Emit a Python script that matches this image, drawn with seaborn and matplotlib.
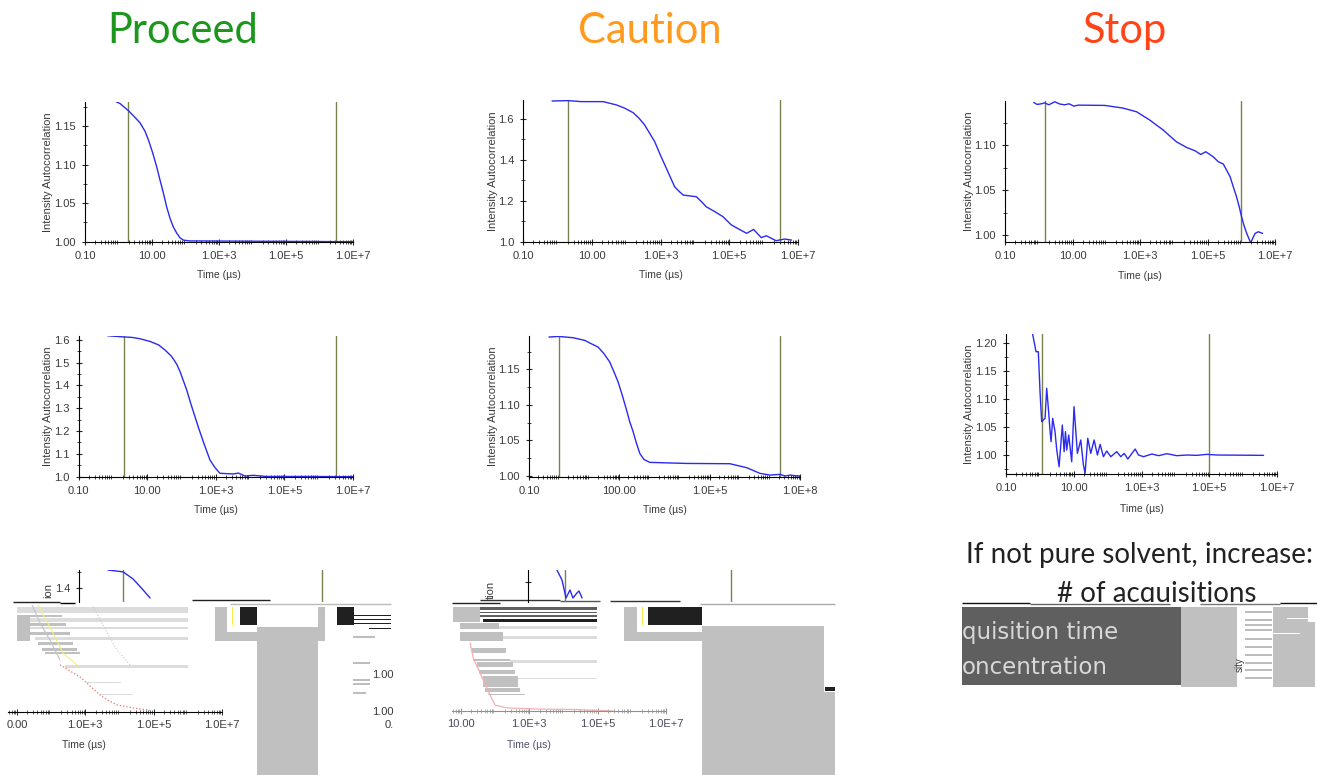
import numpy as np
import pandas as pd
import matplotlib
matplotlib.use('Agg')
import matplotlib.pyplot as plt
from matplotlib.ticker import LogLocator, MultipleLocator, NullFormatter
import seaborn as sns

W, H = 1317, 775

# curves, time in microseconds
a1_t = [0.71, 1.11, 1.95, 3.11, 4.4, 6.2, 7.8, 10.5, 13.8, 17.3, 21.9, 27.4, 34.7, 43.4, 55, 68.5, 87, 135, 1e7]
a1_y = [1.183, 1.179, 1.170, 1.161, 1.154, 1.143, 1.132, 1.115, 1.097, 1.080, 1.063, 1.045, 1.030, 1.019, 1.011, 1.005, 1.002, 1.001, 1.0]
a2_t = [0.71, 2.05, 3.56, 6.2, 12.2, 21.5, 33, 52, 73, 91, 113, 142, 186, 247, 324, 433, 542, 680, 948, 1320, 3240, 4570, 7100, 12400, 30200, 4.9e5, 1e7]
a2_y = [1.618, 1.613, 1.611, 1.605, 1.593, 1.578, 1.556, 1.527, 1.493, 1.461, 1.422, 1.381, 1.322, 1.264, 1.209, 1.154, 1.113, 1.073, 1.040, 1.015, 1.012, 1.016, 1.003, 1.006, 1.001, 1.001, 1.0]
a3_t = [0.7, 1.94, 3.8, 7.4, 11.9]
a3_y = [1.458, 1.452, 1.429, 1.394, 1.368]
c1_t = [0.70, 2.05, 5, 21.5, 52, 91, 160, 237, 345, 485, 680, 991, 1480, 1940, 2570, 3390, 4570, 11000, 15500, 21400, 38000, 66000, 115000, 3.2e5, 5.1e5, 8.5e5, 1.2e6, 2.3e6, 4.1e6, 6.5e6]
c1_y = [1.688, 1.690, 1.685, 1.685, 1.669, 1.653, 1.631, 1.604, 1.571, 1.530, 1.489, 1.424, 1.359, 1.315, 1.269, 1.248, 1.228, 1.220, 1.196, 1.171, 1.147, 1.122, 1.082, 1.041, 1.060, 1.020, 1.029, 1.005, 1.013, 1.008]
c2_t = [0.46, 0.97, 2.9, 7.1, 11.8, 19.7, 31, 48, 67, 91, 126, 174, 222, 288, 372, 479, 652, 1020, 17000, 4.7e5, 1.7e6, 4.7e6, 1e7, 2.2e7, 3.2e7, 4.7e7, 6.9e7, 1e8]
c2_y = [1.1955, 1.1964, 1.1946, 1.1908, 1.186, 1.1814, 1.172, 1.1603, 1.146, 1.1322, 1.113, 1.0924, 1.076, 1.0619, 1.0455, 1.0314, 1.023, 1.0188, 1.0173, 1.0169, 1.0113, 1.0033, 1.0009, 1.0019, 0.9995, 1.0009, 1.0, 0.9995]
c3_t = [0.71, 1.0, 1.31, 1.72, 2.1, 2.75, 3.16, 3.9]
c3_y = [1.32, 1.22, 1.04, 1.12, 1.04, 1.09, 1.11, 1.04]
s1_t = [0.71, 0.89, 1.2, 1.5, 1.98, 3, 4.2, 5.9, 7.9, 11, 14.8, 91, 316, 794, 1950, 3090, 4900, 7700, 12000, 24000, 42700, 63000, 89000, 148000, 209000, 295000, 468000, 5.8e5, 724000, 8.7e5, 1.02e6, 1.2e6, 1.45e6, 1.9e6, 2.57e6, 3.2e6, 4.3e6]
s1_y = [1.1474, 1.1452, 1.1459, 1.1470, 1.1448, 1.1481, 1.1456, 1.1448, 1.1459, 1.1433, 1.1444, 1.1441, 1.1411, 1.1370, 1.1278, 1.1222, 1.1167, 1.11, 1.1037, 1.0974, 1.0937, 1.0896, 1.0926, 1.0870, 1.0815, 1.0789, 1.0648, 1.0537, 1.0426, 1.0315, 1.0204, 1.0111, 1.0019, 0.9915, 1.0019, 1.0037, 1.0019]
s2_t = [0.61, 0.77, 0.90, 1.01, 1.13, 1.42, 1.59, 1.78, 2.0, 2.14, 2.39, 2.8, 3.15, 3.69, 4.6, 5.2, 5.7, 6.2, 7.1, 8.7, 10.2, 12.8, 16.1, 19.3, 21.6, 25.9, 31.8, 39.9, 50, 60, 75, 94, 124, 186, 245, 308, 394, 650, 815, 1150, 2020, 3180, 5600, 11000, 21900, 43000, 85000, 169000, 4e6]
s2_y = [1.2167, 1.185, 1.185, 1.1134, 1.0597, 1.0657, 1.1194, 1.0836, 1.043, 1.0239, 1.0657, 1.0418, 1.009, 0.9791, 1.0537, 1.006, 1.0418, 1.009, 1.0358, 0.988, 1.0866, 1.003, 1.0269, 0.9821, 0.9672, 1.0299, 1.003, 1.0269, 1.0, 1.0191, 0.997, 1.0072, 0.997, 1.006, 0.997, 1.003, 0.9928, 1.0107, 1.0, 0.997, 1.0018, 0.9988, 1.0024, 0.9988, 1.0, 0.9994, 1.0012, 1.0, 0.9994]

# fragments of the damaged bottom row
a3_red_t = [182, 708, 2700, 4400, 8500, 25000, 78000]
a3_red_y = [1.152, 1.113, 1.055, 1.039, 1.023, 1.013, 1.006]
a3_gray1_t = [28, 48, 93, 182]
a3_gray1_y = [1.345, 1.287, 1.232, 1.168]
a3_yellow_t = [42, 93, 224, 575]
a3_yellow_y = [1.345, 1.274, 1.19, 1.152]
a3_gray2_t = [1700, 4400, 8500, 20400]
a3_gray2_y = [1.339, 1.255, 1.2, 1.152]
c3_pink_t = [18.6, 23, 45, 71, 100, 224, 2090, 19000, 282000]
c3_pink_y = [1.219, 1.171, 1.1, 1.052, 1.019, 1.01, 1.006, 1.005, 1.0]

# damaged areas as (left, right, top, bottom) in picture pixels
light_bands = [(17, 188, 607, 613), (25, 188, 618, 622), (30, 188, 627, 629), (35, 188, 637, 640),
               (65, 188, 665, 668), (86, 121, 682, 683), (100, 133, 694, 695),
               (499, 597, 626, 629), (503, 597, 636, 639), (510, 597, 660, 663), (518, 597, 678, 679)]
gray_bands = [(17, 62, 615, 617), (17, 66, 623, 626), (30, 70, 632, 635), (38, 73, 642, 645), (42, 77, 648, 651),
              (45, 80, 652, 654), (17, 30, 615, 641),
              (215, 227, 607, 641), (215, 318, 632, 641), (257, 318, 627, 775), (318, 325, 607, 641),
              (460, 499, 623, 629), (460, 503, 632, 641), (472, 506, 648, 653), (473, 510, 659, 661),
              (477, 513, 662, 667), (479, 515, 670, 674), (483, 518, 676, 687), (485, 520, 688, 692),
              (488, 525, 694, 695), (453, 480, 607, 622),
              (624, 637, 607, 641), (624, 702, 632, 641), (702, 824, 626, 775), (824, 835, 692, 775),
              (1181, 1237, 607, 687), (1273, 1308, 607, 687), (1308, 1315, 622, 687)]
dark_bands = [(480, 597, 607, 610), (480, 597, 612, 613), (480, 597, 615, 617), (962, 1181, 607, 685)]
black_bands = [(240, 257, 607, 625), (337, 354, 607, 625), (483, 597, 619, 622), (648, 702, 607, 625),
               (825, 835, 687, 691), (354, 391, 615, 616), (354, 391, 619, 620), (354, 391, 623, 624),
               (369, 391, 628, 629)]
yellow_bands = [(232, 233, 607, 625), (642, 643, 607, 625)]
white_bands = [(1287, 1317, 618, 619), (1273, 1300, 633, 634), (960, 1317, 602, 607)]
stripe_left = [353, 353, 353, 353, 353, 1245, 1245, 1245, 1245, 1245, 1245, 1245, 1245, 1245, 1245]
stripe_right = [375, 370, 370, 370, 366, 1272, 1272, 1272, 1272, 1272, 1272, 1272, 1272, 1272, 1272]
stripe_y = [637, 663, 680, 684, 693, 612, 620, 625, 630, 639, 647, 655, 663, 670, 678]
noise_left = [13, 60, 192, 230, 452, 480, 560, 610, 700, 962, 1030, 1200, 1280]
noise_right = [60, 75, 270, 391, 500, 560, 600, 680, 835, 1030, 1170, 1280, 1317]
noise_y = [602, 603, 600, 604, 603, 600, 601, 601, 604, 603, 604, 604, 603]
noise_col = ['#222222', '#000000', '#222222', '#bbbbbb', '#222222', '#333333', '#555555', '#333333', '#aaaaaa',
             '#111111', '#666666', '#777777', '#111111']

BLUE = '#2a2af0'
OLIVE = '#76834f'
TXT = '#3a3a3a'

sns.set_style('ticks')
plt.rcParams['font.family'] = ['Liberation Sans', 'DejaVu Sans']
plt.rcParams['axes.edgecolor'] = 'black'


def panel(fig, left, right, top, bottom):
    ax = fig.add_axes([left / W, 1 - bottom / H, (right - left) / W, (bottom - top) / H], zorder=2)
    ax.patch.set_alpha(0)
    sns.despine(ax=ax)
    ax.set_xscale('log')
    return ax


def draw(ax, t, y, color=BLUE, lw=1.0, ls='-'):
    df = pd.DataFrame({'t': t, 'y': y})
    sns.lineplot(data=df, x='t', y='y', ax=ax, color=color, lw=lw, ls=ls, estimator=None, sort=False, errorbar=None)


def style(ax, xlim, ylim, xticks, xlabels, yticks, yfmt, yminor, vlines, ylabel_x=None):
    ax.set_xlim(*xlim)
    ax.set_ylim(*ylim)
    ax.set_xticks(xticks)
    ax.set_xticklabels(xlabels)
    ax.xaxis.set_minor_locator(LogLocator(base=10, subs=np.arange(2, 10), numticks=30))
    ax.xaxis.set_minor_formatter(NullFormatter())
    ax.set_yticks(yticks)
    ax.set_yticklabels([yfmt % v for v in yticks])
    if yminor:
        ax.yaxis.set_minor_locator(MultipleLocator(yminor))
    ax.tick_params(which='major', direction='inout', length=5, width=0.8, labelsize=8, labelcolor=TXT, pad=4)
    ax.tick_params(which='minor', direction='inout', length=3, width=0.6)
    for v in vlines:
        ax.axvline(v, color=OLIVE, lw=1.0, zorder=1)
    ax.set_xlabel('Time (µs)', fontsize=7.5, color=TXT, labelpad=7)
    ax.set_ylabel('Intensity Autocorrelation', fontsize=8, color=TXT)
    if ylabel_x is not None:
        pos = ax.get_position()
        ax.yaxis.set_label_coords((ylabel_x / W - pos.x0) / pos.width, 0.5)


fig = plt.figure(figsize=(W / 100, H / 100), dpi=100)

# pixel layer for the titles, the note and the damaged areas
bg = fig.add_axes([0, 0, 1, 1], zorder=1)
bg.set_xlim(0, W)
bg.set_ylim(H, 0)
bg.axis('off')


def bands(rows, color, z=1):
    for l, r, t, b in rows:
        bg.barh((t + b) / 2, r - l, left=l, height=b - t, color=color, lw=0, zorder=z)


bg.text(183, 31, 'Proceed', color='#1c961c', fontsize=30, family='Lato', ha='center', va='center')
bg.text(650, 31, 'Caution', color='#ff9a1e', fontsize=30, family='Lato', ha='center', va='center')
bg.text(1125, 31, 'Stop', color='#ff4518', fontsize=30, family='Lato', ha='center', va='center')
bg.text(1140, 555, 'If not pure solvent, increase:', color='#222222', fontsize=20, family='Lato', ha='center', va='center')
bg.text(1157, 594, '# of acquisitions', color='#222222', fontsize=20, family='Lato', ha='center', va='center')

bands(light_bands, '#dcdcdc')
bands(gray_bands, '#c0c0c0')
bands(dark_bands, '#5f5f5f')
bands(black_bands, '#202020')
bands(yellow_bands, '#f5ee40')
bands(white_bands, 'white', z=3)
bg.hlines(stripe_y, stripe_left, stripe_right, color='#b0b0b0', lw=1.2, zorder=3)
bg.hlines(noise_y, noise_left, noise_right, colors=noise_col, lw=1.0, zorder=4)
bg.text(962, 632, 'quisition time', color='#d8d8d8', fontsize=16.5, family='DejaVu Sans', va='center', zorder=5)
bg.text(962, 668, 'oncentration', color='#d8d8d8', fontsize=16.5, family='DejaVu Sans', va='center', zorder=5)
bg.text(48, 590, 'ion', color=TXT, fontsize=8, rotation=90, ha='center', va='center', zorder=5)
bg.text(491, 590, 'tion', color=TXT, fontsize=8, rotation=90, ha='center', va='center', zorder=5)
bg.text(1240, 665, 'sity', color=TXT, fontsize=7, rotation=90, ha='center', va='center', zorder=5)
bg.text(372, 675, '1.00', color=TXT, fontsize=8, va='center', zorder=5)
bg.text(372, 712, '1.00', color=TXT, fontsize=8, va='center', zorder=5)
bg.text(385, 725, '0.', color=TXT, fontsize=8, va='center', zorder=5)

x8 = [0.1, 10, 1e3, 1e5, 1e7]
lab8 = ['0.10', '10.00', '1.0E+3', '1.0E+5', '1.0E+7']

ax = panel(fig, 85, 353, 102, 241.7)
draw(ax, a1_t, a1_y)
style(ax, (0.1, 1e7), (1.0, 1.181), x8, lab8, [1.0, 1.05, 1.10, 1.15], '%.2f', 0.025, [1.9, 3.1e6], 53)

ax = panel(fig, 78.5, 353, 336, 476.7)
draw(ax, a2_t, a2_y)
style(ax, (0.1, 1e7), (1.0, 1.617), x8, lab8, [1.0, 1.1, 1.2, 1.3, 1.4, 1.5, 1.6], '%.1f', 0.05, [2.1, 3.1e6], 53)

ax = panel(fig, 523, 798, 100, 241.7)
draw(ax, c1_t, c1_y)
style(ax, (0.1, 1e7), (1.0, 1.693), x8, lab8, [1.0, 1.2, 1.4, 1.6], '%.1f', 0.1, [2.05, 2.9e6], 498)

ax = panel(fig, 529, 800, 336, 476.7)
draw(ax, c2_t, c2_y)
style(ax, (0.1, 1e8), (0.9986, 1.197), [0.1, 100, 1e5, 1e8], ['0.10', '100.00', '1.0E+5', '1.0E+8'],
      [1.0, 1.05, 1.10, 1.15], '%.2f', 0.025, [0.97, 2.2e7], 498)

ax = panel(fig, 1005, 1275, 101, 242.3)
draw(ax, s1_t, s1_y)
style(ax, (0.1, 1e7), (0.992, 1.149), x8, lab8, [1.0, 1.05, 1.10], '%.2f', 0.025, [1.5, 1e6], 974)

ax = panel(fig, 1006, 1277, 334, 474)
draw(ax, s2_t, s2_y)
style(ax, (0.1, 1e7), (0.966, 1.2167), x8, lab8, [1.0, 1.05, 1.10, 1.15, 1.20], '%.2f', 0.025, [1.15, 1e5], 974)
ax.xaxis.labelpad = 8

# cut off tops of the bottom row
ax = panel(fig, 79, 353, 570, 602)
draw(ax, a3_t, a3_y)
ax.set_xlim(0.1, 1e7)
ax.set_ylim(1.355, 1.458)
ax.set_xticks([])
ax.xaxis.set_minor_locator(plt.NullLocator())
ax.spines['bottom'].set_visible(False)
ax.set_yticks([1.4])
ax.set_yticklabels(['1.4'])
ax.yaxis.set_minor_locator(MultipleLocator(0.05))
ax.tick_params(which='major', direction='inout', length=5, width=0.8, labelsize=8, labelcolor=TXT, pad=4)
ax.tick_params(which='minor', direction='inout', length=3, width=0.6)
ax.axvline(1.94, color=OLIVE, lw=1.0, zorder=1)
ax.axvline(1.27e6, color=OLIVE, lw=1.0, zorder=1)
ax.set_xlabel('')
ax.set_ylabel('')

ax = panel(fig, 528, 800, 570, 602)
draw(ax, c3_t, c3_y)
ax.set_xlim(0.1, 1e7)
ax.set_ylim(1.0, 1.32)
ax.set_xticks([])
ax.xaxis.set_minor_locator(plt.NullLocator())
ax.spines['bottom'].set_visible(False)
ax.set_yticks([1.2])
ax.set_yticklabels([''])
ax.tick_params(which='major', direction='inout', length=5, width=0.8)
ax.axvline(1.22, color=OLIVE, lw=1.0, zorder=1)
ax.axvline(93000, color=OLIVE, lw=1.0, zorder=1)
ax.set_xlabel('')
ax.set_ylabel('')

# shifted lower halves of the bottom row
xlow = [10, 1e3, 1e5, 1e7]
ax = panel(fig, 8, 222, 603, 712)
draw(ax, a3_gray1_t, a3_gray1_y, color='#c4c4c8', lw=0.8)
draw(ax, a3_yellow_t, a3_yellow_y, color='#f2ee80', lw=0.8)
draw(ax, a3_gray2_t, a3_gray2_y, color='#c8c8c8', lw=0.8, ls=':')
draw(ax, a3_red_t, a3_red_y, color='#f07070', lw=0.9, ls=':')
ax.set_xlim(5.5, 1e7)
ax.set_ylim(1.0, 1.352)
ax.spines['left'].set_visible(False)
ax.set_yticks([])
ax.set_xticks(xlow)
ax.set_xticklabels(['0.00', '1.0E+3', '1.0E+5', '1.0E+7'])
ax.xaxis.set_minor_locator(LogLocator(base=10, subs=np.arange(2, 10), numticks=30))
ax.xaxis.set_minor_formatter(NullFormatter())
ax.tick_params(which='major', direction='inout', length=4, width=0.7, labelsize=8, labelcolor=TXT, pad=4)
ax.tick_params(which='minor', direction='inout', length=2.5, width=0.5)
ax.set_xlabel('Time (µs)', fontsize=7.5, color=TXT, labelpad=7)
ax.set_ylabel('')
ax.xaxis.set_label_coords(0.355, -0.253)

ax = panel(fig, 452, 666, 603, 711)
draw(ax, c3_pink_t, c3_pink_y, color='#f5b0b0', lw=0.9)
ax.set_xlim(5.5, 1e7)
ax.set_ylim(1.0, 1.348)
ax.spines['left'].set_visible(False)
ax.spines['bottom'].set_color('#909090')
ax.set_yticks([])
ax.set_xticks(xlow)
ax.set_xticklabels(['10.00', '1.0E+3', '1.0E+5', '1.0E+7'])
ax.xaxis.set_minor_locator(LogLocator(base=10, subs=np.arange(2, 10), numticks=30))
ax.xaxis.set_minor_formatter(NullFormatter())
ax.tick_params(which='major', direction='inout', length=4, width=0.7, color='#909090', labelsize=8, labelcolor='#4a4a60', pad=4)
ax.tick_params(which='minor', direction='inout', length=2.5, width=0.5, color='#909090')
ax.set_xlabel('Time (µs)', fontsize=7.5, color='#505070', labelpad=7)
ax.set_ylabel('')
ax.xaxis.set_label_coords(0.36, -0.272)

fig.savefig('out.png', dpi=100)
plt.close(fig)
